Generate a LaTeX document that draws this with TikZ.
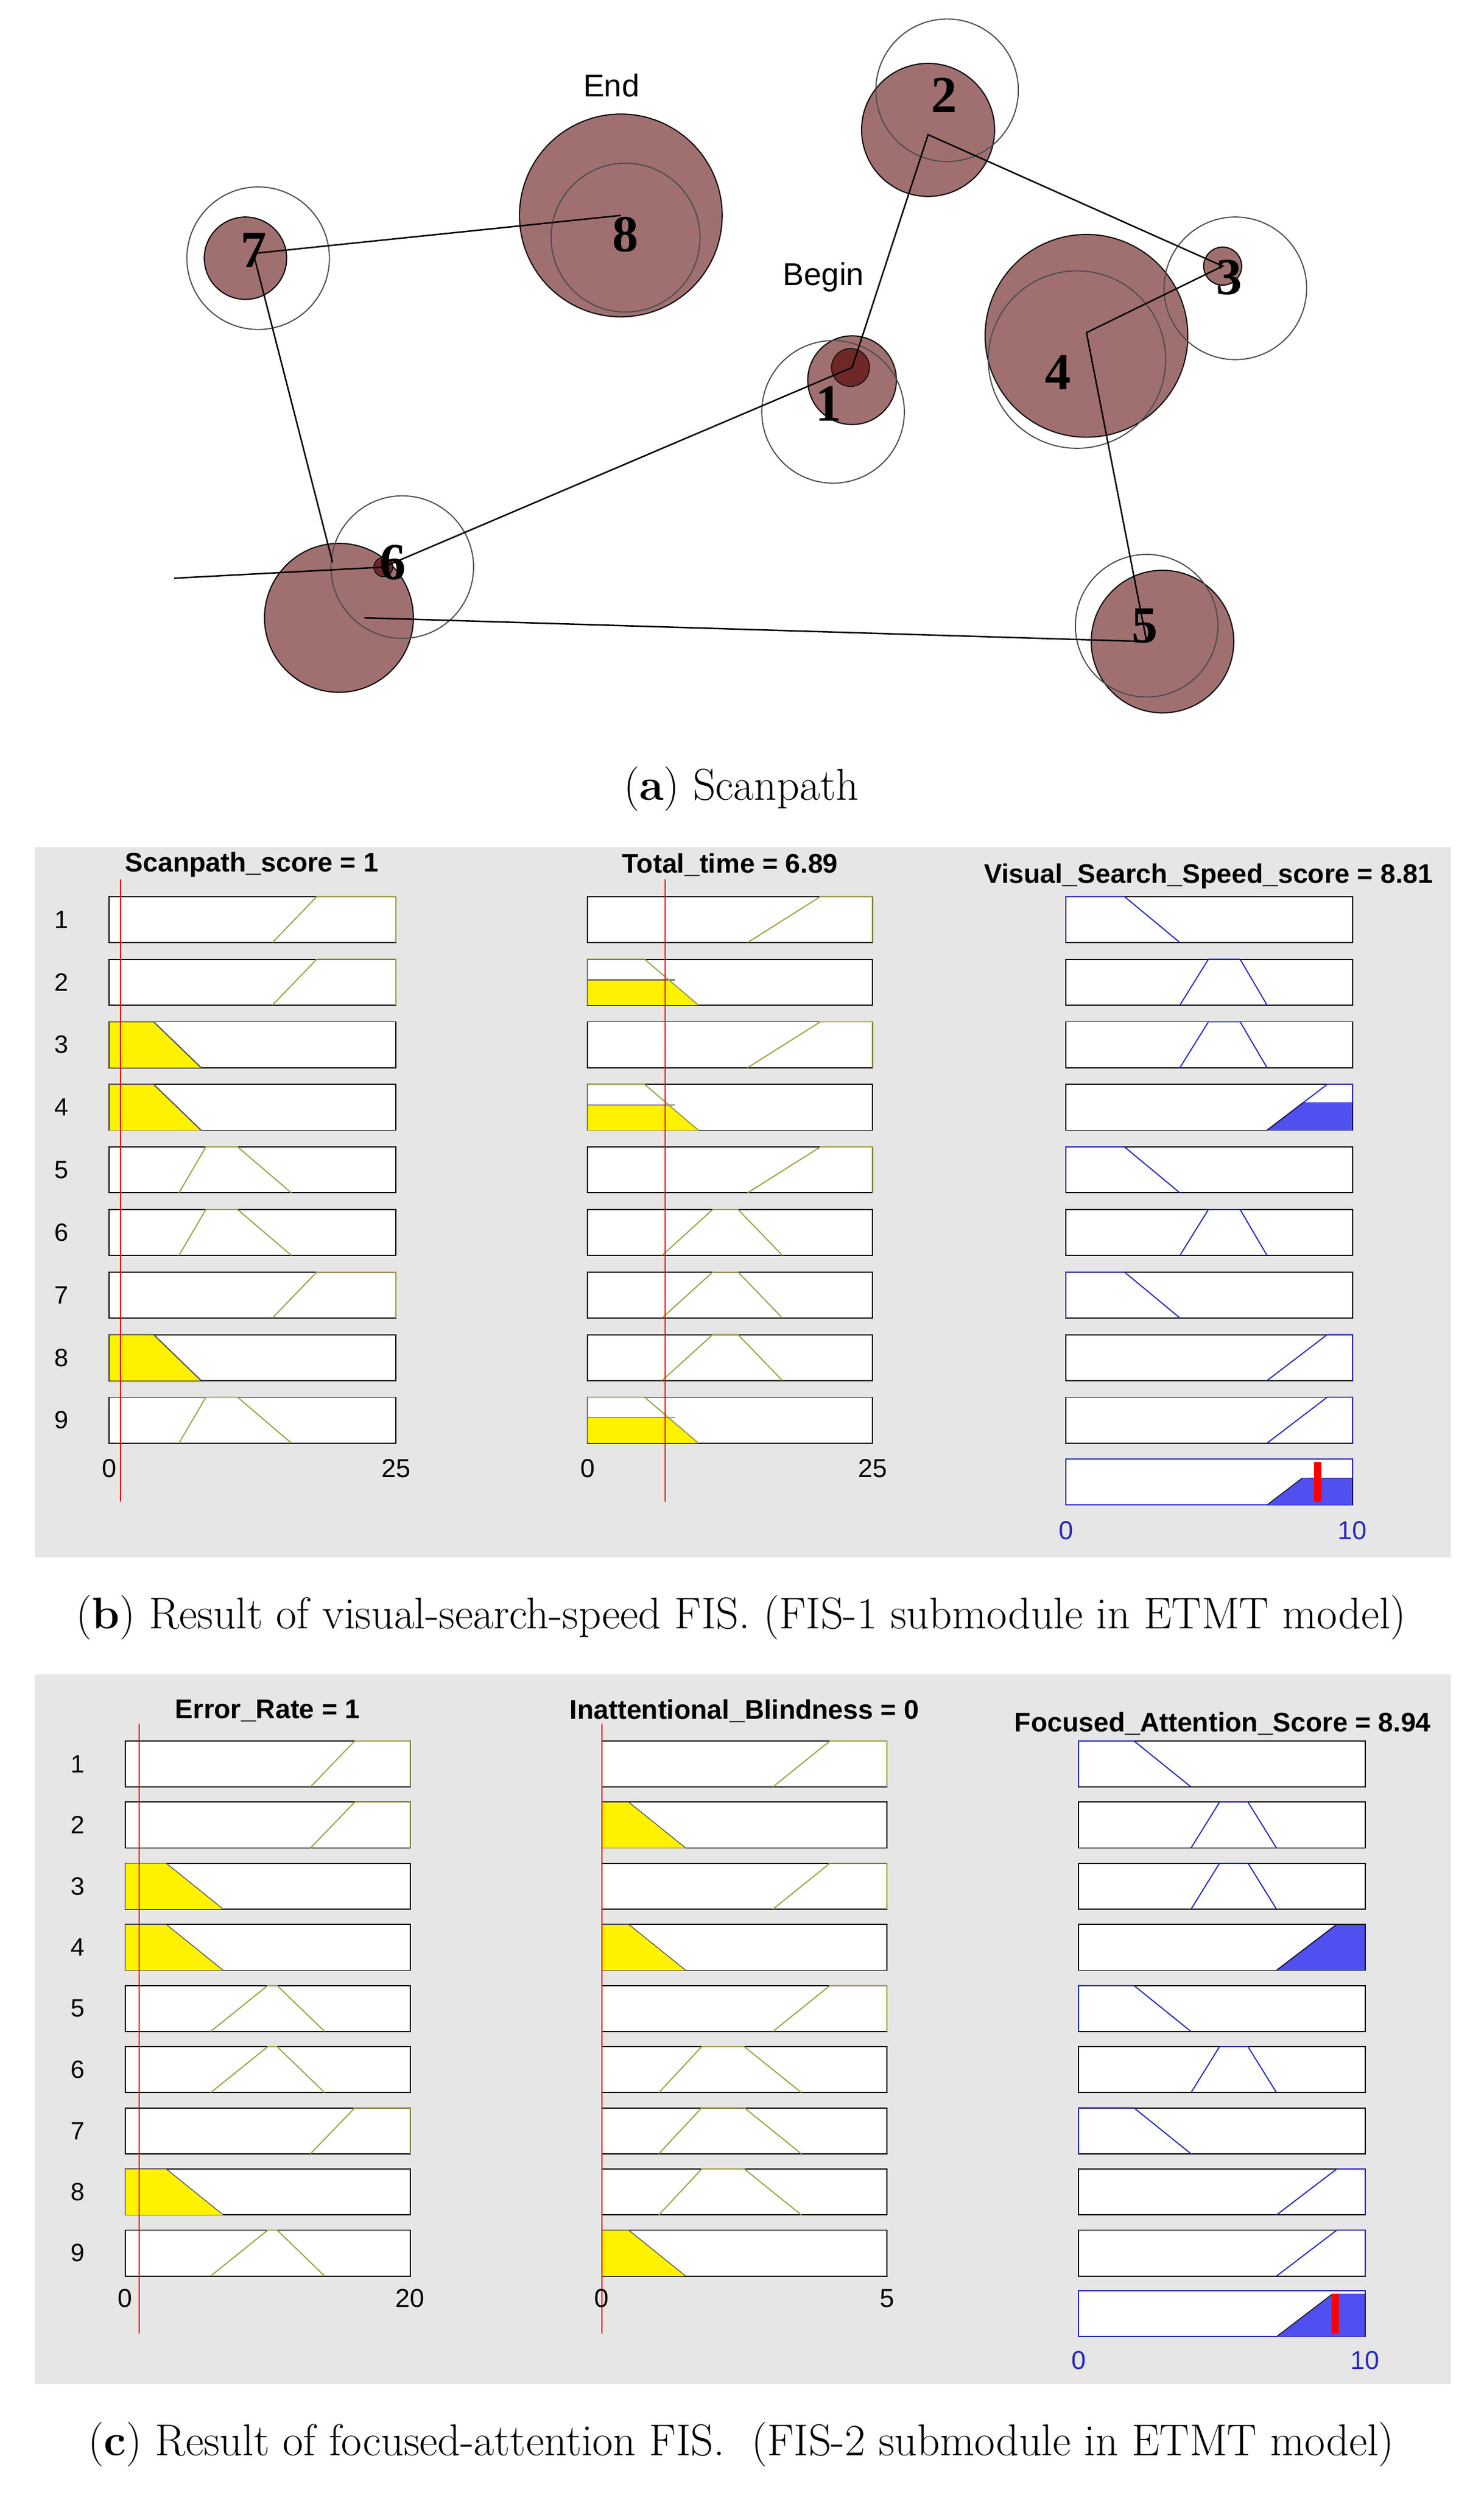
\documentclass[tikz,border=0pt]{standalone}
\usepackage{fontspec}
\newfontfamily\sansf{Liberation Sans}
\newfontfamily\seriff{Liberation Serif}
\definecolor{circ}{RGB}{160,112,112}
\definecolor{darkc}{RGB}{110,40,40}
\definecolor{bggray}{RGB}{230,230,230}
\definecolor{olive}{RGB}{160,160,70}
\definecolor{mfblue}{RGB}{40,40,190}
\definecolor{fillblue}{RGB}{80,80,240}
\newcommand\mfp[5]{(#1,{#5+29})--(#2,#5)--(#3,#5)--(#4,{#5+29})}
\begin{document}
\begin{tikzpicture}[x=0.03cm,y=-0.03cm,
  fc/.style={draw=black,fill=circ,line width=0.6pt},
  hc/.style={draw=black!70,line width=0.6pt},
  sp/.style={black,line width=0.8pt},
  num/.style={font=\seriff\bfseries\fontsize{28}{28}\selectfont},
  tag/.style={font=\sansf\fontsize{17}{17}\selectfont},
  capt/.style={font=\fontsize{24}{28}\selectfont},
  ttl/.style={font=\sansf\bfseries\fontsize{14.5}{16}\selectfont},
  rowlab/.style={font=\sansf\fontsize{13.5}{15}\selectfont},
  axl/.style={font=\sansf\fontsize{14}{15}\selectfont},
  axb/.style={font=\sansf\fontsize{14}{15}\selectfont,text=mfblue},
  box/.style={draw=black,fill=white,line width=0.6pt},
  mfi/.style={draw=olive,line width=0.6pt},
  mfo/.style={draw=mfblue,line width=0.6pt},
  redl/.style={draw=red,line width=0.7pt}]
\useasboundingbox (0,0) rectangle (937,1575);
\fill[white] (0,0) rectangle (937,1575);
% ---------------- (a) scanpath
\draw[fc] (538,240) circle (28);
\draw[fc] (586,82) circle (42);
\draw[fc] (772,168) circle (12);
\draw[fc] (686,212) circle (64);
\draw[fc] (734,405) circle (45);
\draw[fc] (214,390) circle (47);
\draw[fc] (155,163) circle (26);
\draw[fc] (392,136) circle (64);
\draw[hc] (526,260) circle (45);
\draw[hc] (598,57) circle (45);
\draw[hc] (780,182) circle (45);
\draw[hc] (680,227) circle (56);
\draw[hc] (724,395) circle (45);
\draw[hc] (254,358) circle (45);
\draw[hc] (163,163) circle (45);
\draw[hc] (395,150) circle (47);
\draw[fill=darkc] (537,232) circle (12);
\draw[fill=darkc] (242,358) circle (6);
\coordinate (p1) at (538,232);
\coordinate (p2) at (586,85);
\coordinate (p3) at (772,168);
\coordinate (p4) at (686,210);
\coordinate (p5) at (724,405);
\coordinate (p6a) at (230,390);
\coordinate (p6) at (242,358);
\coordinate (p6b) at (210,355);
\coordinate (p7) at (160,160);
\coordinate (p8) at (392,136);
\coordinate (p0) at (110,365);
\draw[sp] (p1)--(p2)--(p3)--(p4)--(p5)--(p6a);
\draw[sp] (p6)--(p1);
\draw[sp] (p6b)--(p7)--(p8);
\draw[sp] (p0)--(p6);
\node[num] (n1) at (523,255) {1};
\node[num] (n2) at (596,60) {2};
\node[num] (n3) at (776,175) {3};
\node[num] (n4) at (668,235) {4};
\node[num] (n5) at (723,395) {5};
\node[num] (n6) at (248,355) {6};
\node[num] (n7) at (160,158) {7};
\node[num] (n8) at (395,148) {8};
\node[tag] (tend) at (386,54) {End};
\node[tag] (tbeg) at (520,175) {Begin};
\node[capt] (capa) at (468,498) {(\textbf{a}) Scanpath};
% ---------------- (b)
\fill[bggray] (22,535) rectangle (916,983);
\node[ttl] (tb1) at (159,546) {Scanpath\_score = 1};
\node[ttl] (tb2) at (461,546) {Total\_time = 6.89};
\node[ttl] (tb3) at (763,553) {Visual\_Search\_Speed\_score = 8.81};
\foreach \i in {1,...,9}{
  \pgfmathsetmacro\yt{566+(\i-1)*39.5}
  \node[rowlab] (rb\i) at (39,{\yt+14.5}) {\i};
  \draw[box] (69,\yt) rectangle (250,{\yt+29});
  \draw[box] (371,\yt) rectangle (551,{\yt+29});
  \draw[box] (673,\yt) rectangle (854,{\yt+29});
}
\foreach \i in {1,2,7}{\pgfmathsetmacro\yt{566+(\i-1)*39.5}\draw[mfi] \mfp{172}{200}{250}{250}{\yt};}
\foreach \i in {3,4,8}{\pgfmathsetmacro\yt{566+(\i-1)*39.5}\fill[yellow] \mfp{69}{69}{97}{127}{\yt}--cycle;\draw[mfi,draw=black!70] \mfp{69}{69}{97}{127}{\yt};}
\foreach \i in {5,6,9}{\pgfmathsetmacro\yt{566+(\i-1)*39.5}\draw[mfi] \mfp{113}{130}{150}{184}{\yt};}
\foreach \i in {1,3,5}{\pgfmathsetmacro\yt{566+(\i-1)*39.5}\draw[mfi] \mfp{472}{518}{551}{551}{\yt};}
\foreach \i in {2,4,9}{\pgfmathsetmacro\yt{566+(\i-1)*39.5}
  \begin{scope}\clip (371,{\yt+29*0.45}) rectangle (551,{\yt+29});
  \fill[yellow] \mfp{371}{371}{407}{441}{\yt}--cycle;
  \draw[black!70] \mfp{371}{371}{407}{441}{\yt};
  \draw[black!70] (371,{\yt+29*0.45})--(426,{\yt+29*0.45});\end{scope}
  \draw[mfi] \mfp{371}{371}{407}{441}{\yt};}
\foreach \i in {6,7,8}{\pgfmathsetmacro\yt{566+(\i-1)*39.5}\draw[mfi] \mfp{418}{450}{466}{494}{\yt};}
\foreach \i in {1,5,7}{\pgfmathsetmacro\yt{566+(\i-1)*39.5}\draw[mfo] \mfp{673}{673}{710}{745}{\yt};}
\foreach \i in {2,3,6}{\pgfmathsetmacro\yt{566+(\i-1)*39.5}\draw[mfo] \mfp{745}{763}{783}{800}{\yt};}
\foreach \i in {4,8,9}{\pgfmathsetmacro\yt{566+(\i-1)*39.5}\draw[mfo] \mfp{800}{838}{854}{854}{\yt};}
\begin{scope}\clip (673,{684.5+29*0.4}) rectangle (854,{684.5+29});
\fill[fillblue] \mfp{800}{838}{854}{854}{684.5}--cycle;\draw[black] \mfp{800}{838}{854}{854}{684.5};\end{scope}
\draw[box,draw=mfblue] (673,921) rectangle (854,950);
\begin{scope}\clip (673,933) rectangle (854,950);
\fill[fillblue] \mfp{800}{838}{854}{854}{921}--cycle;\draw[black] \mfp{800}{838}{854}{854}{921};\end{scope}
\draw[black] (825,933)--(854,933);
\draw[red,line width=3.8pt] (832,923)--(832,948);
\draw[redl] (76,555)--(76,948);
\draw[redl] (420,555)--(420,948);
\node[axl] (xb1) at (69,927) {0};
\node[axl] (xb2) at (250,927) {25};
\node[axl] (xb3) at (371,927) {0};
\node[axl] (xb4) at (551,927) {25};
\node[axb] (xb5) at (673,966) {0};
\node[axb] (xb6) at (854,966) {10};
\node[capt] (capb) at (468,1021) {(\textbf{b}) Result of visual-search-speed FIS. (FIS-1 submodule in ETMT model)};
% ---------------- (c)
\fill[bggray] (22,1057) rectangle (916,1505);
\node[ttl] (tc1) at (169,1080) {Error\_Rate = 1};
\node[ttl] (tc2) at (470,1080) {Inattentional\_Blindness = 0};
\node[ttl] (tc3) at (772,1088) {Focused\_Attention\_Score = 8.94};
\foreach \i in {1,...,9}{
  \pgfmathsetmacro\yt{1099+(\i-1)*38.6}
  \node[rowlab] (rc\i) at (49,{\yt+14.5}) {\i};
  \draw[box] (79,\yt) rectangle (259,{\yt+29});
  \draw[box] (380,\yt) rectangle (560,{\yt+29});
  \draw[box] (681,\yt) rectangle (862,{\yt+29});
}
\foreach \i in {1,2,7}{\pgfmathsetmacro\yt{1099+(\i-1)*38.6}\draw[mfi] \mfp{196}{224}{259}{259}{\yt};}
\foreach \i in {3,4,8}{\pgfmathsetmacro\yt{1099+(\i-1)*38.6}\fill[yellow] \mfp{79}{79}{105}{141}{\yt}--cycle;\draw[black!70] \mfp{79}{79}{105}{141}{\yt};}
\foreach \i in {5,6,9}{\pgfmathsetmacro\yt{1099+(\i-1)*38.6}\draw[mfi] \mfp{133}{169}{175}{205}{\yt};}
\foreach \i in {1,3,5}{\pgfmathsetmacro\yt{1099+(\i-1)*38.6}\draw[mfi] \mfp{488}{524}{560}{560}{\yt};}
\foreach \i in {2,4,9}{\pgfmathsetmacro\yt{1099+(\i-1)*38.6}\fill[yellow] \mfp{380}{380}{397}{433}{\yt}--cycle;\draw[black!70] \mfp{380}{380}{397}{433}{\yt};}
\foreach \i in {6,7,8}{\pgfmathsetmacro\yt{1099+(\i-1)*38.6}\draw[mfi] \mfp{416}{443}{470}{506}{\yt};}
\foreach \i in {1,5,7}{\pgfmathsetmacro\yt{1099+(\i-1)*38.6}\draw[mfo] \mfp{681}{681}{716}{752}{\yt};}
\foreach \i in {2,3,6}{\pgfmathsetmacro\yt{1099+(\i-1)*38.6}\draw[mfo] \mfp{752}{770}{788}{806}{\yt};}
\foreach \i in {4,8,9}{\pgfmathsetmacro\yt{1099+(\i-1)*38.6}\draw[mfo] \mfp{806}{844}{862}{862}{\yt};}
\fill[fillblue] \mfp{806}{844}{862}{862}{1214.8}--cycle;
\draw[black] \mfp{806}{844}{862}{862}{1214.8};
\draw[box,draw=mfblue] (681,1446) rectangle (862,1475);
\begin{scope}\clip (681,1448) rectangle (862,1475);
\fill[fillblue] \mfp{806}{844}{862}{862}{1446}--cycle;\draw[black] \mfp{806}{844}{862}{862}{1446};\end{scope}
\draw[red,line width=3.8pt] (843,1448)--(843,1473);
\draw[redl] (88,1088)--(88,1473);
\draw[redl] (380,1088)--(380,1473);
\node[axl] (xc1) at (79,1451) {0};
\node[axl] (xc2) at (259,1451) {20};
\node[axl] (xc3) at (380,1451) {0};
\node[axl] (xc4) at (560,1451) {5};
\node[axb] (xc5) at (681,1490) {0};
\node[axb] (xc6) at (862,1490) {10};
\node[capt] (capc) at (468,1543) {(\textbf{c}) Result of focused-attention FIS.\ \ (FIS-2 submodule in ETMT model)};
\end{tikzpicture}
\end{document}
